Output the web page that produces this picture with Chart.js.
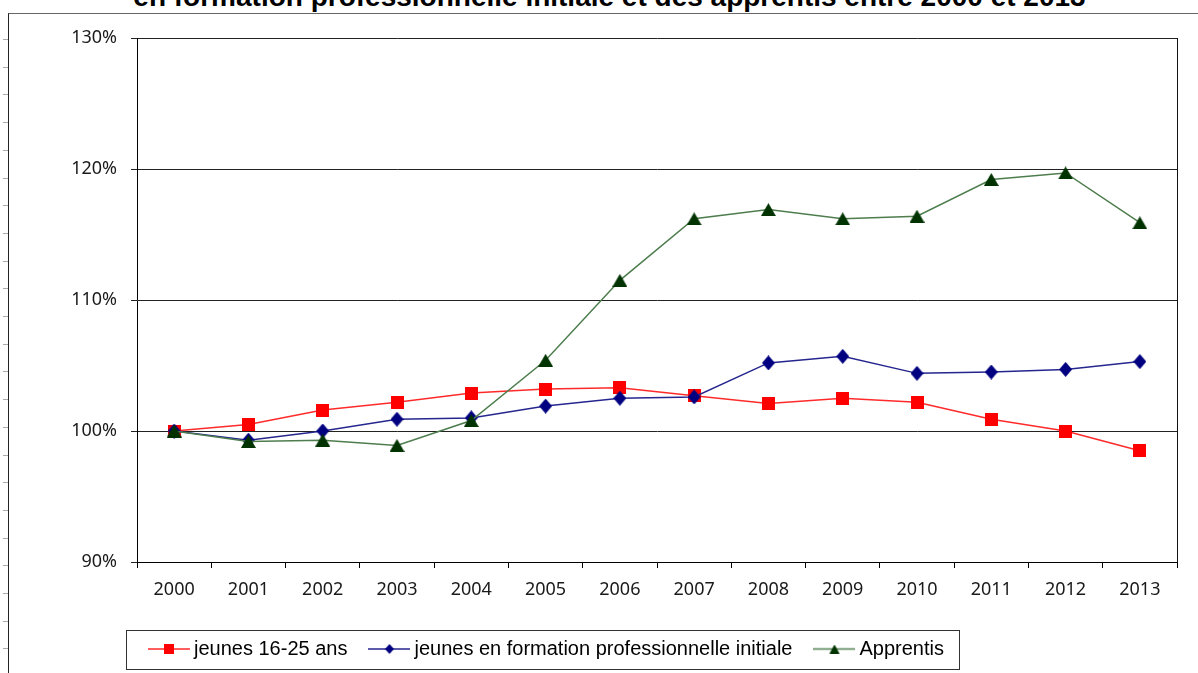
<!DOCTYPE html>
<html lang="fr">
<head>
<meta charset="utf-8">
<script src="https://cdn.jsdelivr.net/npm/chart.js@4.4.1/dist/chart.umd.min.js"></script>
<style>
  html, body { margin: 0; padding: 0; background: #fff; }
  #page { position: relative; width: 1198px; height: 673px; overflow: hidden; background: #fff; }
  #titre { position: absolute; left: 0; width: 1219px; top: -17px; text-align: center;
           font: bold 28px "Liberation Sans", Arial, sans-serif; line-height: 28px; color: #000; white-space: nowrap; }
  #cadre { position: absolute; left: 8px; top: 13px; right: 0; bottom: 0;
           border-left: 1px solid #222; border-top: 1px solid #666; }
  #regle { position: absolute; left: 3px; top: 26px; width: 5px; bottom: 0;
           background: repeating-linear-gradient(to bottom, transparent 0, transparent 13px, #aaa 13px, #aaa 14px, transparent 14px, transparent 27.7px); }
  #grafico { position: absolute; left: 0; top: 0; }
</style>
</head>
<body>
<div id="page">
  <div id="titre">en formation professionnelle initiale et des apprentis entre 2000 et 2013</div>
  <div id="cadre"></div>
  <div id="regle"></div>
  <canvas id="grafico" width="1198" height="673"></canvas>
</div>
<script>
// données (indice base 100 en 2000)
const annees = ['2000','2001','2002','2003','2004','2005','2006','2007','2008','2009','2010','2011','2012','2013'];
const jeunes = [100, 100.5, 101.6, 102.2, 102.9, 103.2, 103.3, 102.7, 102.1, 102.5, 102.2, 100.9, 100.0, 98.5];
const formationInitiale = [100, 99.3, 100.0, 100.9, 101.0, 101.9, 102.5, 102.6, 105.2, 105.7, 104.4, 104.5, 104.7, 105.3];
const apprentis = [100, 99.2, 99.3, 98.9, 100.8, 105.4, 111.5, 116.2, 116.9, 116.2, 116.4, 119.2, 119.7, 115.9];
const graduations = [90, 100, 110, 120, 130];
const noms = ['jeunes 16-25 ans', 'jeunes en formation professionnelle initiale', 'Apprentis'];

// petit canvas avec le marqueur (et un trait pour la légende)
function marqueur(forme, couleur, l, h, trait, couleurTrait) {
  const w = trait || l;
  const c = document.createElement('canvas');
  c.width = w; c.height = h;
  const ctx = c.getContext('2d');
  const cx = w / 2, cy = h / 2;
  if (trait) {
    ctx.strokeStyle = couleurTrait;
    ctx.lineWidth = 1.5;
    ctx.beginPath(); ctx.moveTo(0, cy); ctx.lineTo(w, cy); ctx.stroke();
  }
  ctx.fillStyle = couleur;
  ctx.beginPath();
  if (forme === 'carre') {
    ctx.rect(cx - l / 2, cy - l / 2, l, l);
  } else if (forme === 'losange') {
    ctx.moveTo(cx, cy - h / 2); ctx.lineTo(cx + l / 2, cy);
    ctx.lineTo(cx, cy + h / 2); ctx.lineTo(cx - l / 2, cy);
  } else {
    ctx.moveTo(cx, cy - h / 2); ctx.lineTo(cx + l / 2, cy + h / 2); ctx.lineTo(cx - l / 2, cy + h / 2);
  }
  ctx.closePath();
  ctx.fill();
  return c;
}

const traits = ['#ff2a2a', '#26268f', '#4e7d4e'];
const points = [
  marqueur('carre', '#ff0000', 13, 13),
  marqueur('losange', '#000080', 13, 15),
  marqueur('triangle', '#003300', 15, 13)
];
const legendeImgs = [
  marqueur('carre', '#ff0000', 10, 10, 42, traits[0]),
  marqueur('losange', '#000080', 9, 10, 42, traits[1]),
  marqueur('triangle', '#003300', 10, 9, 42, traits[2])
];

const cadrePlugin = {
  id: 'cadre',
  afterLayout(chart) {
    const lg = chart.legend;
    lg.left = chart.chartArea.left - 10;
    lg.right = chart.width;
    lg.top -= 4; lg.bottom -= 4;
  },
  afterDraw(chart) {
    const ctx = chart.ctx, a = chart.chartArea;
    ctx.save();
    ctx.strokeStyle = '#111';
    ctx.lineWidth = 1;
    ctx.beginPath();
    ctx.moveTo(Math.round(a.right) + 0.5, a.top);
    ctx.lineTo(Math.round(a.right) + 0.5, a.bottom);
    ctx.stroke();
    const hb = chart.legend.legendHitBoxes;
    const dernier = hb[hb.length - 1];
    const cy = hb[0].top + hb[0].height / 2;
    const x0 = Math.round(chart.legend.left) - 0.5;
    const x1 = Math.round(dernier.left + dernier.width + 15) + 0.5;
    ctx.strokeStyle = '#333';
    ctx.strokeRect(x0, Math.round(cy - 19) + 0.5, x1 - x0, 39);
    ctx.restore();
  }
};

const police = { family: 'Noto Sans', size: 18 };

new Chart(document.getElementById('grafico'), {
  type: 'line',
  data: {
    labels: annees,
    datasets: [
      { label: noms[0], data: jeunes, borderColor: traits[0], backgroundColor: '#ff0000',
        borderWidth: 1.5, pointStyle: points[0], pointRadius: 7, tension: 0, order: 3 },
      { label: noms[1], data: formationInitiale, borderColor: traits[1], backgroundColor: '#000080',
        borderWidth: 1.5, pointStyle: points[1], pointRadius: 7, tension: 0, order: 2 },
      { label: noms[2], data: apprentis, borderColor: traits[2], backgroundColor: '#003300',
        borderWidth: 1.5, pointStyle: points[2], pointRadius: 7, tension: 0, order: 1 }
    ]
  },
  options: {
    responsive: false,
    animation: false,
    devicePixelRatio: 1,
    layout: { padding: { top: 38, right: 21, left: 0, bottom: 0 } },
    plugins: {
      title: { display: false },
      tooltip: { enabled: false },
      legend: {
        position: 'bottom',
        align: 'start',
        labels: {
          usePointStyle: true,
          pointStyleWidth: 30,
          padding: 27,
          color: '#000',
          font: { family: 'Liberation Sans', size: 20 },
          sort: (a, b) => a.datasetIndex - b.datasetIndex,
          generateLabels(chart) {
            const items = Chart.defaults.plugins.legend.labels.generateLabels(chart);
            items.forEach(it => { it.pointStyle = legendeImgs[it.datasetIndex]; });
            return items;
          }
        }
      }
    },
    scales: {
      x: {
        offset: true,
        afterFit(s) { s.height = 54; },
        grid: { offset: true, drawOnChartArea: false, color: '#000', tickLength: 6 },
        border: { color: '#000', width: 1 },
        ticks: { padding: 11, autoSkip: false, maxRotation: 0, color: '#1a1a1a', font: police }
      },
      y: {
        min: 90,
        max: 130,
        afterFit(s) { s.width = 137; },
        afterBuildTicks(s) { s.ticks = graduations.map(v => ({ value: v })); },
        grid: { color: '#222', lineWidth: 1, tickLength: 6 },
        border: { color: '#000', width: 1 },
        ticks: { padding: 14, color: '#1a1a1a', font: police, callback: v => v + '%' }
      }
    }
  },
  plugins: [cadrePlugin]
});
</script>
</body>
</html>
